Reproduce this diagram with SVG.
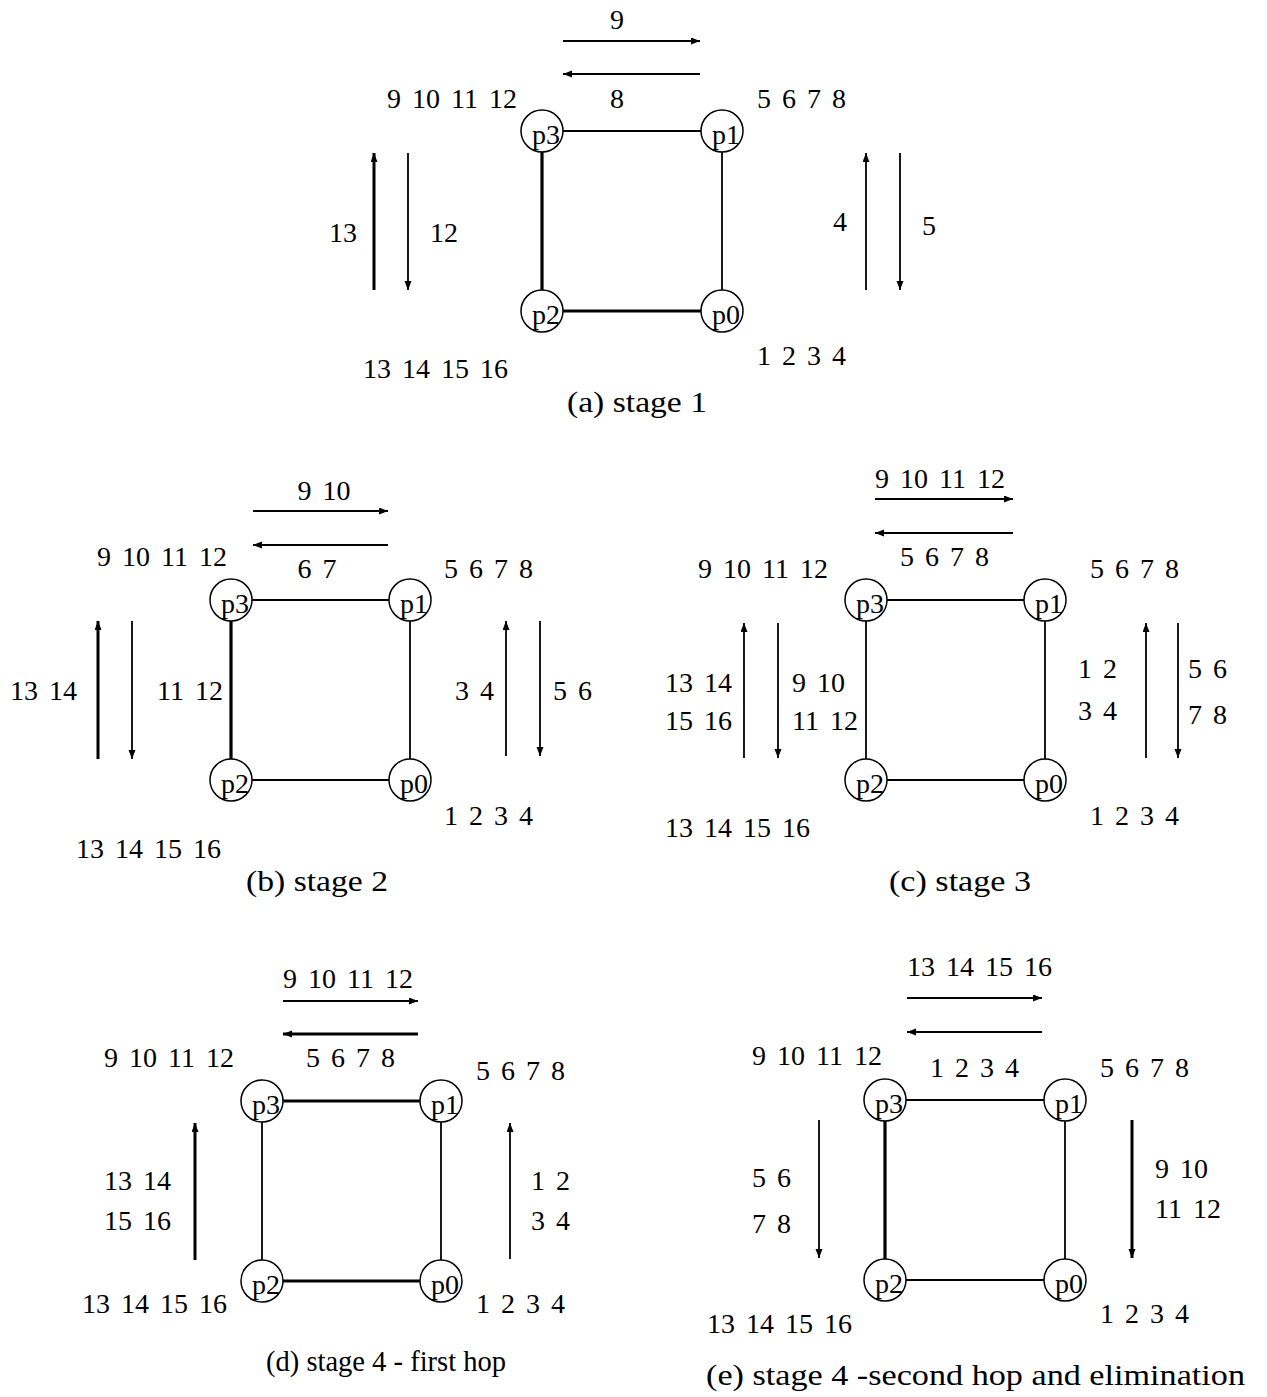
<svg xmlns="http://www.w3.org/2000/svg" width="1267" height="1397" viewBox="0 0 1267 1397">
<defs>
<style>
text{font-family:"Liberation Serif","Times New Roman",serif;font-size:28px;fill:#000;word-spacing:4px}
.m{text-anchor:middle}
.cap{word-spacing:0px;font-size:30px}
.nd{fill:none;stroke:#000;stroke-width:1.5}
.e{stroke:#000;stroke-width:1.8;fill:none}
.t{stroke:#000;stroke-width:3.2;fill:none}
.a{stroke:#000;stroke-width:1.8;fill:none;marker-end:url(#ah)}
.at{stroke:#000;stroke-width:3;fill:none;marker-end:url(#ah)}
</style>
<marker id="ah" markerUnits="userSpaceOnUse" markerWidth="10" markerHeight="8" refX="9" refY="3.5" orient="auto">
<path d="M0,0 L9,3.5 L0,7 z" fill="#000"/>
</marker>
</defs>
<rect width="1267" height="1397" fill="#fff"/>

<!-- (a) stage 1 -->
<g id="a-p3"><circle class="nd" cx="542" cy="131" r="21"/><text x="532" y="144">p3</text></g>
<g id="a-p1"><circle class="nd" cx="722" cy="131" r="21"/><text x="712" y="144">p1</text></g>
<g id="a-p2"><circle class="nd" cx="542" cy="311" r="21"/><text x="532" y="324">p2</text></g>
<g id="a-p0"><circle class="nd" cx="722" cy="311" r="21"/><text x="712" y="324">p0</text></g>
<g id="a-connectors">
<line class="e" x1="563" y1="131" x2="701" y2="131"/>
<line class="t" x1="542" y1="152" x2="542" y2="290"/>
<line class="t" x1="563" y1="311" x2="701" y2="311"/>
<line class="e" x1="722" y1="152" x2="722" y2="290"/>
<line class="a" x1="563" y1="41" x2="700" y2="41"/>
<line class="a" x1="700" y1="74" x2="563" y2="74"/>
<line class="at" x1="374" y1="290" x2="374" y2="153"/>
<line class="a" x1="408" y1="153" x2="408" y2="290"/>
<line class="a" x1="866" y1="290" x2="866" y2="153"/>
<line class="a" x1="900" y1="153" x2="900" y2="290"/>
</g>
<g id="a-labels">
<text class="m" x="617" y="29">9</text>
<text class="m" x="617" y="108">8</text>
<text x="387" y="108">9 10 11 12</text>
<text x="757" y="108">5 6 7 8</text>
<text class="m" x="343" y="242">13</text>
<text class="m" x="444" y="242">12</text>
<text class="m" x="840" y="231">4</text>
<text class="m" x="929" y="235">5</text>
<text x="363" y="378">13 14 15 16</text>
<text x="757" y="365">1 2 3 4</text>
<text class="cap" x="567" y="412" textLength="140" lengthAdjust="spacingAndGlyphs">(a) stage 1</text>
</g>

<!-- (b) stage 2 -->
<g id="b-p3"><circle class="nd" cx="231" cy="600" r="21"/><text x="221" y="613">p3</text></g>
<g id="b-p1"><circle class="nd" cx="410" cy="600" r="21"/><text x="400" y="613">p1</text></g>
<g id="b-p2"><circle class="nd" cx="231" cy="780" r="21"/><text x="221" y="793">p2</text></g>
<g id="b-p0"><circle class="nd" cx="410" cy="780" r="21"/><text x="400" y="793">p0</text></g>
<g id="b-connectors">
<line class="e" x1="252" y1="600" x2="389" y2="600"/>
<line class="t" x1="231" y1="621" x2="231" y2="759"/>
<line class="e" x1="252" y1="780" x2="389" y2="780"/>
<line class="e" x1="410" y1="621" x2="410" y2="759"/>
<line class="a" x1="253" y1="511" x2="388" y2="511"/>
<line class="a" x1="388" y1="545" x2="253" y2="545"/>
<line class="at" x1="98" y1="759" x2="98" y2="621"/>
<line class="a" x1="132" y1="621" x2="132" y2="759"/>
<line class="a" x1="506" y1="756" x2="506" y2="621"/>
<line class="a" x1="540" y1="621" x2="540" y2="756"/>
</g>
<g id="b-labels">
<text class="m" x="324" y="500">9 10</text>
<text class="m" x="317" y="578">6 7</text>
<text x="97" y="566">9 10 11 12</text>
<text x="444" y="578">5 6 7 8</text>
<text x="10" y="700">13 14</text>
<text x="157" y="700">11 12</text>
<text x="455" y="700">3 4</text>
<text x="553" y="700">5 6</text>
<text x="444" y="825">1 2 3 4</text>
<text x="76" y="858">13 14 15 16</text>
<text class="cap" x="246" y="891" textLength="142" lengthAdjust="spacingAndGlyphs">(b) stage 2</text>
</g>

<!-- (c) stage 3 -->
<g id="c-p3"><circle class="nd" cx="866" cy="600" r="21"/><text x="856" y="613">p3</text></g>
<g id="c-p1"><circle class="nd" cx="1045" cy="600" r="21"/><text x="1035" y="613">p1</text></g>
<g id="c-p2"><circle class="nd" cx="866" cy="780" r="21"/><text x="856" y="793">p2</text></g>
<g id="c-p0"><circle class="nd" cx="1045" cy="780" r="21"/><text x="1035" y="793">p0</text></g>
<g id="c-connectors">
<line class="e" x1="887" y1="600" x2="1024" y2="600"/>
<line class="e" x1="866" y1="621" x2="866" y2="759"/>
<line class="e" x1="887" y1="780" x2="1024" y2="780"/>
<line class="e" x1="1045" y1="621" x2="1045" y2="759"/>
<line class="a" x1="875" y1="499" x2="1013" y2="499"/>
<line class="a" x1="1013" y1="533" x2="875" y2="533"/>
<line class="a" x1="744" y1="758" x2="744" y2="623"/>
<line class="a" x1="778" y1="623" x2="778" y2="758"/>
<line class="a" x1="1146" y1="758" x2="1146" y2="623"/>
<line class="a" x1="1178" y1="623" x2="1178" y2="758"/>
</g>
<g id="c-labels">
<text x="875" y="488">9 10 11 12</text>
<text x="900" y="566">5 6 7 8</text>
<text x="698" y="578">9 10 11 12</text>
<text x="1090" y="578">5 6 7 8</text>
<text x="665" y="692">13 14</text>
<text x="665" y="730">15 16</text>
<text x="792" y="692">9 10</text>
<text x="792" y="730">11 12</text>
<text x="1078" y="678">1 2</text>
<text x="1078" y="720">3 4</text>
<text x="1188" y="678">5 6</text>
<text x="1188" y="724">7 8</text>
<text x="1090" y="825">1 2 3 4</text>
<text x="665" y="837">13 14 15 16</text>
<text class="cap" x="889" y="891" textLength="142" lengthAdjust="spacingAndGlyphs">(c) stage 3</text>
</g>

<!-- (d) stage 4 - first hop -->
<g id="d-p3"><circle class="nd" cx="262" cy="1101" r="21"/><text x="252" y="1114">p3</text></g>
<g id="d-p1"><circle class="nd" cx="441" cy="1101" r="21"/><text x="431" y="1114">p1</text></g>
<g id="d-p2"><circle class="nd" cx="262" cy="1281" r="21"/><text x="252" y="1294">p2</text></g>
<g id="d-p0"><circle class="nd" cx="441" cy="1281" r="21"/><text x="431" y="1294">p0</text></g>
<g id="d-connectors">
<line class="t" x1="283" y1="1101" x2="420" y2="1101"/>
<line class="e" x1="262" y1="1122" x2="262" y2="1260"/>
<line class="t" x1="283" y1="1281" x2="420" y2="1281"/>
<line class="e" x1="441" y1="1122" x2="441" y2="1260"/>
<line class="a" x1="283" y1="1001" x2="418" y2="1001"/>
<line class="at" x1="418" y1="1034" x2="283" y2="1034"/>
<line class="at" x1="195" y1="1260" x2="195" y2="1123"/>
<line class="a" x1="510" y1="1259" x2="510" y2="1123"/>
</g>
<g id="d-labels">
<text x="283" y="988">9 10 11 12</text>
<text x="306" y="1067">5 6 7 8</text>
<text x="104" y="1067">9 10 11 12</text>
<text x="476" y="1080">5 6 7 8</text>
<text x="104" y="1190">13 14</text>
<text x="104" y="1230">15 16</text>
<text x="531" y="1190">1 2</text>
<text x="531" y="1230">3 4</text>
<text x="82" y="1313">13 14 15 16</text>
<text x="476" y="1313">1 2 3 4</text>
<text class="cap" x="266" y="1371" textLength="240" lengthAdjust="spacingAndGlyphs">(d) stage 4 - first hop</text>
</g>

<!-- (e) stage 4 -second hop and elimination -->
<g id="e-p3"><circle class="nd" cx="885" cy="1100" r="21"/><text x="875" y="1113">p3</text></g>
<g id="e-p1"><circle class="nd" cx="1065" cy="1100" r="21"/><text x="1055" y="1113">p1</text></g>
<g id="e-p2"><circle class="nd" cx="885" cy="1280" r="21"/><text x="875" y="1293">p2</text></g>
<g id="e-p0"><circle class="nd" cx="1065" cy="1280" r="21"/><text x="1055" y="1293">p0</text></g>
<g id="e-connectors">
<line class="e" x1="906" y1="1100" x2="1044" y2="1100"/>
<line class="t" x1="885" y1="1121" x2="885" y2="1259"/>
<line class="e" x1="906" y1="1280" x2="1044" y2="1280"/>
<line class="e" x1="1065" y1="1121" x2="1065" y2="1259"/>
<line class="a" x1="907" y1="998" x2="1042" y2="998"/>
<line class="a" x1="1042" y1="1032" x2="907" y2="1032"/>
<line class="a" x1="819" y1="1120" x2="819" y2="1258"/>
<line class="at" x1="1132" y1="1120" x2="1132" y2="1258"/>
</g>
<g id="e-labels">
<text x="907" y="976">13 14 15 16</text>
<text x="752" y="1065">9 10 11 12</text>
<text x="930" y="1077">1 2 3 4</text>
<text x="1100" y="1077">5 6 7 8</text>
<text x="752" y="1187">5 6</text>
<text x="752" y="1233">7 8</text>
<text x="1155" y="1178">9 10</text>
<text x="1155" y="1218">11 12</text>
<text x="707" y="1333">13 14 15 16</text>
<text x="1100" y="1323">1 2 3 4</text>
<text class="cap" x="706" y="1385" textLength="539" lengthAdjust="spacingAndGlyphs">(e) stage 4 -second hop and elimination</text>
</g>
</svg>
